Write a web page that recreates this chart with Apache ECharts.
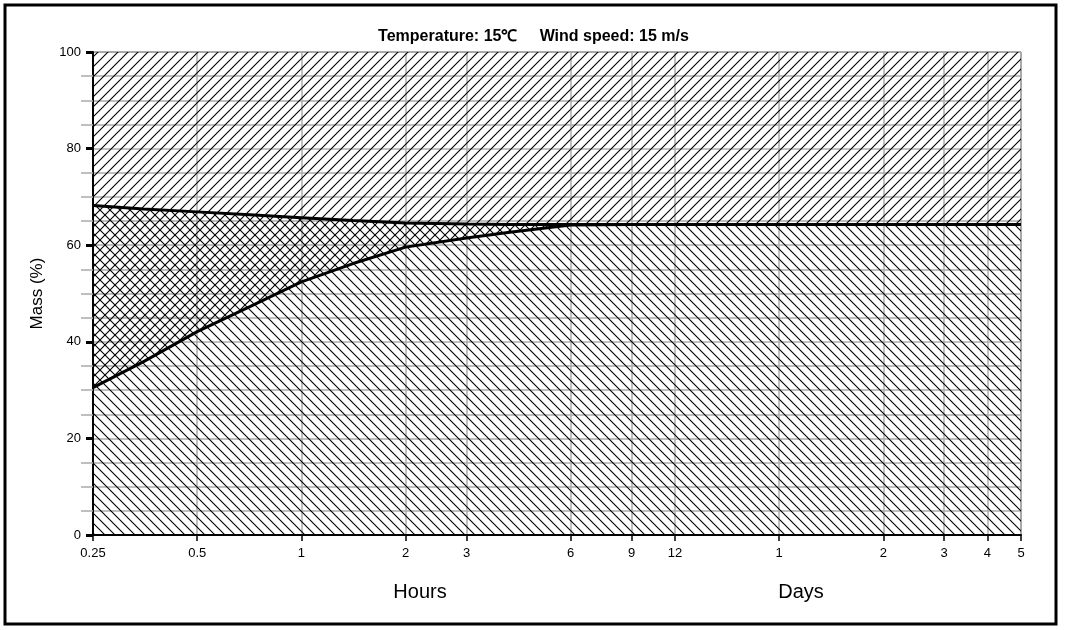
<!DOCTYPE html>
<html><head><meta charset="utf-8">
<script src="https://cdn.jsdelivr.net/npm/echarts@6/dist/echarts.min.js"></script>
<style>html,body{margin:0;padding:0;background:#fff}#c{width:1067px;height:630px}</style>
</head><body><div id="c"></div>
<script>
// time in hours (x axis is logarithmic)
const hours     = [0.25, 0.35, 0.5, 0.71, 1, 1.41, 2, 3, 4, 6, 9, 12, 24, 48, 72, 96, 120];
// lower curve (Mass %) and upper curve (Mass %)
const lowerMass = [30.5, 35.9, 42.1, 47.3, 52.4, 56.2, 59.6, 61.5, 62.7, 64.2, 64.3, 64.3, 64.3, 64.3, 64.3, 64.3, 64.3];
const upperMass = [68.2, 67.5, 66.9, 66.3, 65.7, 65.1, 64.6, 64.4, 64.3, 64.3, 64.3, 64.3, 64.3, 64.3, 64.3, 64.3, 64.3];
// x tick positions (hours) and their labels
const tickHours  = [0.25, 0.5, 1, 2, 3, 6, 9, 12, 24, 48, 72, 96, 120];
const tickLabels = ['0.25', '0.5', '1', '2', '3', '6', '9', '12', '1', '2', '3', '4', '5'];
const titleText = 'Temperature: 15\u2103     Wind speed: 15 m/s';
const yName = 'Mass (%)';
const unitLabels = ['Hours', 'Days'];

const FONT = "'Liberation Sans', Arial, sans-serif";

function makePattern(kind) {
  const s = 10;
  const cv = document.createElement('canvas');
  cv.width = s; cv.height = s;
  const ctx = cv.getContext('2d');
  ctx.strokeStyle = '#000';
  ctx.lineWidth = 1.1;
  function fwd() { // '/'
    ctx.beginPath();
    ctx.moveTo(-2, s + 2); ctx.lineTo(s + 2, -2);
    ctx.moveTo(-2, 2); ctx.lineTo(2, -2);
    ctx.moveTo(s - 2, s + 2); ctx.lineTo(s + 2, s - 2);
    ctx.stroke();
  }
  function back() { // '\'
    ctx.beginPath();
    ctx.moveTo(-2, -2); ctx.lineTo(s + 2, s + 2);
    ctx.moveTo(s - 2, -2); ctx.lineTo(s + 2, 2);
    ctx.moveTo(-2, s - 2); ctx.lineTo(2, s + 2);
    ctx.stroke();
  }
  if (kind === 'fwd') fwd();
  else if (kind === 'back') back();
  else { fwd(); back(); }
  return { image: cv, repeat: 'repeat' };
}

const lx = hours.map(h => Math.log2(h));
const tickPos = tickHours.map(h => Math.log2(h));
const xMin = tickPos[0], xMax = tickPos[tickPos.length - 1];

const lowerData = lx.map((x, i) => [x, lowerMass[i]]);
const upperData = lx.map((x, i) => [x, upperMass[i]]);

const patBack = makePattern('back');
const patCross = makePattern('cross');
const patFwd = makePattern('fwd');

function renderRegions(params, api) {
  const up = upperData.map(p => api.coord(p));
  const lo = lowerData.map(p => api.coord(p));
  const tl = api.coord([xMin, 100]), tr = api.coord([xMax, 100]);
  const bl = api.coord([xMin, 0]), br = api.coord([xMax, 0]);
  return {
    type: 'group',
    children: [
      { type: 'polygon', shape: { points: up.concat([tr, tl]) }, style: { fill: patFwd, stroke: null } },
      { type: 'polygon', shape: { points: up.concat(lo.slice().reverse()) }, style: { fill: patCross, stroke: null } },
      { type: 'polygon', shape: { points: lo.concat([br, bl]) }, style: { fill: patBack, stroke: null } }
    ]
  };
}

const chart = echarts.init(document.getElementById('c'));
chart.setOption({
  animation: false,
  backgroundColor: '#fff',
  title: {
    text: titleText, left: 'center', top: 24,
    textStyle: { fontFamily: FONT, fontSize: 16, fontWeight: 'bold', color: '#000' }
  },
  grid: { left: 93, right: 46, top: 52, bottom: 95, show: true, borderColor: '#555', borderWidth: 1, backgroundColor: 'transparent' },
  xAxis: {
    type: 'value',
    min: xMin, max: xMax,
    axisLine: { show: true, onZero: false, lineStyle: { color: '#000', width: 2 } },
    axisTick: { show: true, customValues: tickPos, length: 6, lineStyle: { color: '#000', width: 1.5 } },
    axisLabel: {
      customValues: tickPos, margin: 12, color: '#000', fontSize: 13, fontFamily: FONT,
      showMinLabel: true, showMaxLabel: true, hideOverlap: false,
      formatter: function (v) {
        for (let i = 0; i < tickPos.length; i++) if (Math.abs(tickPos[i] - v) < 1e-6) return tickLabels[i];
        return '';
      }
    },
    splitLine: { show: true, lineStyle: { color: '#aaa', width: 1.5 } }
  },
  yAxis: {
    type: 'value', min: 0, max: 100, interval: 20,
    name: yName, nameLocation: 'middle', nameGap: 47,
    nameTextStyle: { fontFamily: FONT, fontSize: 17, color: '#000' },
    axisLine: { show: true, onZero: false, lineStyle: { color: '#000', width: 2 } },
    axisTick: { show: true, length: 7, lineStyle: { color: '#000', width: 3 } },
    minorTick: { show: true, splitNumber: 4, length: 12, lineStyle: { color: '#aaa', width: 1.5 } },
    splitLine: { show: true, lineStyle: { color: '#aaa', width: 1.5 } },
    minorSplitLine: { show: true, lineStyle: { color: '#aaa', width: 1.5 } },
    axisLabel: { color: '#000', fontSize: 13, fontFamily: FONT, margin: 12 }
  },
  series: [
    {
      type: 'custom', name: 'regions', data: [[xMin, 0]], renderItem: renderRegions,
      silent: true, z: 1, clip: true
    },
    {
      type: 'line', name: 'lower', data: lowerData, symbol: 'none',
      lineStyle: { color: '#000', width: 3 }, z: 3
    },
    {
      type: 'line', name: 'upper', data: upperData, symbol: 'none',
      lineStyle: { color: '#000', width: 3 }, z: 4
    }
  ],
  graphic: [
    { type: 'rect', shape: { x: 5, y: 5, width: 1051, height: 619 }, style: { fill: 'none', stroke: '#000', lineWidth: 3 }, silent: true },
    { type: 'text', x: 420, y: 592, style: { text: unitLabels[0], fill: '#000', font: '20px ' + FONT, textAlign: 'center', textVerticalAlign: 'middle' } },
    { type: 'text', x: 801, y: 592, style: { text: unitLabels[1], fill: '#000', font: '20px ' + FONT, textAlign: 'center', textVerticalAlign: 'middle' } }
  ]
});
</script>
</body></html>
